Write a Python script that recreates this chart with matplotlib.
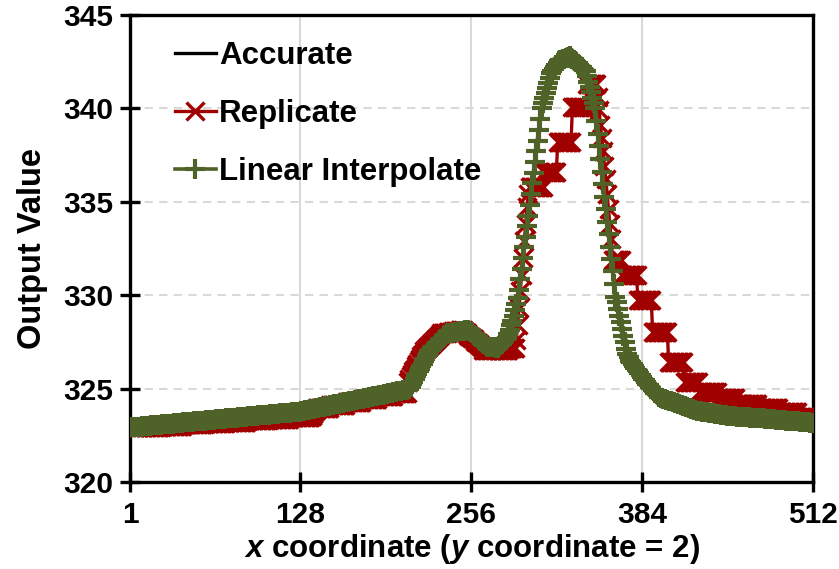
import numpy as np
import matplotlib
matplotlib.use("Agg")
import matplotlib.pyplot as plt

# ---------------- data ----------------
series_names = ["Accurate", "Replicate", "Linear Interpolate"]
x_ticks = [1, 128, 256, 384, 512]
y_ticks = [320, 325, 330, 335, 340, 345]

# Linear Interpolate, one value per x coordinate 1..512
linear_vals = [
    322.92, 322.93, 322.93, 322.94, 322.95, 322.95, 322.96, 322.97, 322.97, 322.98, 322.99, 322.99,
    323.00, 323.01, 323.01, 323.02, 323.03, 323.03, 323.04, 323.05, 323.05, 323.06, 323.07, 323.07,
    323.08, 323.09, 323.09, 323.10, 323.11, 323.11, 323.12, 323.13, 323.13, 323.14, 323.15, 323.15,
    323.16, 323.17, 323.17, 323.18, 323.19, 323.19, 323.20, 323.21, 323.21, 323.22, 323.23, 323.23,
    323.24, 323.25, 323.25, 323.26, 323.27, 323.27, 323.28, 323.29, 323.29, 323.30, 323.31, 323.31,
    323.32, 323.33, 323.33, 323.34, 323.35, 323.35, 323.36, 323.37, 323.37, 323.38, 323.39, 323.39,
    323.40, 323.41, 323.41, 323.42, 323.43, 323.43, 323.44, 323.45, 323.45, 323.46, 323.47, 323.47,
    323.48, 323.49, 323.49, 323.50, 323.51, 323.51, 323.52, 323.53, 323.53, 323.54, 323.55, 323.55,
    323.56, 323.57, 323.57, 323.58, 323.59, 323.59, 323.60, 323.61, 323.61, 323.62, 323.63, 323.63,
    323.64, 323.65, 323.65, 323.66, 323.67, 323.67, 323.68, 323.69, 323.69, 323.70, 323.71, 323.71,
    323.72, 323.73, 323.73, 323.74, 323.75, 323.75, 323.76, 323.77,
    323.78, 323.80, 323.81, 323.83, 323.84, 323.86, 323.87, 323.89, 323.90, 323.92, 323.93, 323.95, 323.96, 323.98, 323.99, 324.01,
    324.02, 324.04, 324.05, 324.07, 324.08, 324.09, 324.11, 324.12, 324.14, 324.15, 324.17, 324.18, 324.20, 324.21, 324.23, 324.24,
    324.26, 324.27, 324.29, 324.30, 324.32, 324.33, 324.35, 324.36, 324.38, 324.39, 324.40, 324.42, 324.43, 324.45, 324.46, 324.48,
    324.49, 324.51, 324.52, 324.54, 324.55, 324.57, 324.58, 324.60, 324.61, 324.63, 324.64, 324.66, 324.67, 324.68, 324.70, 324.71,
    324.73, 324.74, 324.76, 324.77, 324.79, 324.80, 324.82, 324.83, 324.85, 324.86, 324.88, 324.89, 324.91, 324.92, 324.94, 324.95,
    324.97, 324.98,
    325.11, 325.25, 325.38, 325.52, 325.65, 325.79, 325.92, 326.06, 326.19, 326.33, 326.46, 326.60, 326.73, 326.87, 327.00,
    327.07, 327.15, 327.22, 327.29, 327.37, 327.44, 327.51, 327.58, 327.66, 327.73, 327.80, 327.88, 327.95,
    327.96, 327.97, 327.99, 328.00, 328.01, 328.02, 328.03, 328.05, 328.06, 328.07, 328.08, 328.09, 328.10, 328.12, 328.13, 328.14,
    328.08, 328.01, 327.95, 327.88, 327.82, 327.76, 327.69, 327.63, 327.56, 327.50, 327.43, 327.37, 327.31, 327.24,
    327.23, 327.23, 327.22, 327.22, 327.21, 327.21, 327.20, 327.20,
    327.27, 327.34, 327.41, 327.49, 327.56, 327.63, 327.70,
    327.93, 328.15, 328.38, 328.60,
    328.91, 329.22, 329.53, 329.84,
    330.28, 330.85, 331.42, 331.99, 332.56, 333.12, 333.69, 334.26, 334.83,
    335.40, 335.98, 336.55, 337.13, 337.70, 338.28, 338.85, 339.43, 340.00,
    340.27, 340.54, 340.81, 341.09, 341.36, 341.63, 341.90,
    342.01, 342.12, 342.23, 342.33, 342.44, 342.55,
    342.58, 342.61, 342.64, 342.67, 342.69, 342.72, 342.75, 342.78,
    342.72, 342.65, 342.59, 342.53, 342.46, 342.40,
    342.33, 342.27, 342.20, 342.13, 342.07, 342.00,
    341.71, 341.43, 341.14, 340.86, 340.57, 340.29, 340.00,
    339.32, 338.65, 337.97, 337.30, 336.62, 335.95, 335.27,
    334.60, 333.93, 333.27, 332.60, 331.93, 331.27, 330.60, 329.93,
    329.61, 329.25, 328.89, 328.54, 328.18, 327.83, 327.47, 327.11,
    326.83, 326.67, 326.50,
    326.40, 326.31, 326.21, 326.11, 326.02, 325.92, 325.82, 325.73, 325.63, 325.53, 325.44, 325.34,
    325.25, 325.17, 325.10, 325.02, 324.95, 324.87, 324.79, 324.72, 324.64, 324.57,
    324.52, 324.49, 324.47, 324.44, 324.41, 324.39, 324.36, 324.34, 324.31, 324.29, 324.26, 324.23, 324.21, 324.18,
    324.16, 324.13, 324.11, 324.08, 324.05, 324.03, 324.00, 323.98, 323.95, 323.93, 323.90, 323.87, 323.85, 323.82,
    323.81, 323.80, 323.79, 323.77, 323.76, 323.75, 323.74, 323.73, 323.72, 323.70, 323.69, 323.68, 323.67,
    323.66, 323.64, 323.63, 323.62, 323.61, 323.60, 323.59, 323.57, 323.56, 323.55, 323.54, 323.53,
    323.52, 323.52, 323.51, 323.51, 323.50, 323.50, 323.49, 323.49, 323.48, 323.48, 323.47, 323.47, 323.46,
    323.46, 323.45, 323.45, 323.44, 323.44, 323.43, 323.43, 323.42, 323.42, 323.41, 323.41, 323.40,
    323.39, 323.39, 323.38, 323.38, 323.37, 323.36, 323.36, 323.35, 323.34, 323.34, 323.33, 323.33, 323.32,
    323.31, 323.31, 323.30, 323.29, 323.29, 323.28, 323.28, 323.27, 323.26, 323.26, 323.25, 323.24,
    323.24, 323.23, 323.22, 323.22, 323.21, 323.21, 323.20, 323.19, 323.19, 323.18, 323.17, 323.17,
]

# Replicate, one value per x coordinate 1..512
replicate_vals = [
    322.92, 322.92, 322.92, 322.92, 322.92, 322.92, 322.92, 322.92, 322.92,
    322.95, 322.95, 322.95, 322.95, 322.95, 322.95, 322.95, 322.95, 322.95, 322.95, 322.95, 322.95, 322.95, 322.95, 322.95,
    323.02, 323.02, 323.02, 323.02, 323.02, 323.02, 323.02, 323.02, 323.02, 323.02, 323.02, 323.02, 323.02, 323.02, 323.02, 323.02,
    323.08, 323.08, 323.08, 323.08, 323.08, 323.08, 323.08, 323.08, 323.08, 323.08, 323.08, 323.08, 323.08, 323.08, 323.08, 323.08,
    323.14, 323.14, 323.14, 323.14, 323.14, 323.14, 323.14, 323.14, 323.14, 323.14, 323.14, 323.14, 323.14, 323.14, 323.14, 323.14,
    323.22, 323.22, 323.22, 323.22, 323.22, 323.22, 323.22, 323.22, 323.22, 323.22, 323.22, 323.22, 323.22, 323.22, 323.22, 323.22,
    323.30, 323.30, 323.30, 323.30, 323.30, 323.30, 323.30, 323.30, 323.30, 323.30, 323.30, 323.30, 323.30, 323.30, 323.30, 323.30,
    323.37, 323.37, 323.37, 323.37, 323.37, 323.37, 323.37, 323.37, 323.37, 323.37, 323.37, 323.37, 323.37, 323.37, 323.37, 323.37,
    323.47, 323.47, 323.47, 323.47, 323.47, 323.47, 323.47, 323.47, 323.47, 323.47, 323.47, 323.47, 323.47, 323.47, 323.47, 323.47,
    323.55, 323.65, 323.75, 323.85,
    323.98, 323.98, 323.98, 323.98, 323.98, 323.98, 323.98, 323.98, 323.98, 323.98,
    324.12, 324.12, 324.12, 324.12, 324.12, 324.12, 324.12, 324.12, 324.12, 324.12, 324.12, 324.12,
    324.30, 324.30, 324.30, 324.30, 324.30, 324.30, 324.30, 324.30, 324.30, 324.30, 324.30, 324.30,
    324.46, 324.46, 324.46, 324.46, 324.46, 324.46, 324.46, 324.46, 324.46, 324.46, 324.46, 324.46,
    324.62, 324.62, 324.62, 324.62, 324.62, 324.62, 324.62, 324.62, 324.62, 324.62, 324.62, 324.62,
    324.78, 324.78, 324.78, 324.78, 324.78, 324.78, 324.78, 324.78, 324.78, 324.78,
    325.38, 325.52, 325.65, 325.79, 325.92, 326.06, 326.19, 326.33, 326.46, 326.60, 326.73, 326.87, 327.00,
    327.07, 327.15, 327.22, 327.29, 327.37, 327.44, 327.51, 327.58, 327.66, 327.73, 327.80, 327.88, 327.95,
    327.96, 327.97, 327.99, 328.00, 328.01, 328.02, 328.03, 328.05, 328.06, 328.07, 328.08, 328.09, 328.10, 328.12, 328.13, 328.14,
    328.08, 328.01, 327.95, 327.88, 327.82, 327.76, 327.69, 327.63, 327.56, 327.50, 327.43, 327.37, 327.31, 327.24,
    327.05, 327.05, 327.05, 327.05, 327.05, 327.05, 327.05, 327.05, 327.05, 327.05,
    327.05, 327.05, 327.05, 327.05, 327.05, 327.05, 327.05, 327.05, 327.05, 327.05,
    327.15, 327.15, 327.15, 327.15, 327.15,
    327.60, 328.40, 329.30, 330.20, 331.10, 332.00, 332.90, 333.80, 334.70, 335.40,
    335.80, 335.80, 335.80, 335.80, 335.80, 335.80, 335.80, 335.80, 335.80, 335.80, 335.80,
    336.60, 336.60, 336.60, 336.60, 336.60, 336.60, 336.60, 336.60, 336.60, 336.60,
    338.20, 338.20, 338.20, 338.20, 338.20, 338.20, 338.20, 338.20, 338.20, 338.20, 338.20,
    340.10, 340.10, 340.10, 340.10, 340.10, 340.10, 340.10, 340.10, 340.10, 340.10, 340.10,
    341.30, 341.30, 341.30, 341.30, 341.30, 341.30, 341.30, 341.30,
    340.60, 339.90, 339.10, 338.40, 337.70, 336.90, 336.20, 335.40, 334.60, 333.80, 333.00,
    331.90, 331.90, 331.90, 331.90, 331.90, 331.90, 331.90,
    331.10, 331.10, 331.10, 331.10, 331.10, 331.10, 331.10, 331.10, 331.10, 331.10, 331.10, 331.10,
    329.74, 329.74, 329.74, 329.74, 329.74, 329.74, 329.74, 329.74, 329.74, 329.74, 329.74,
    328.05, 328.05, 328.05, 328.05, 328.05, 328.05, 328.05, 328.05, 328.05, 328.05, 328.05, 328.05,
    326.44, 326.44, 326.44, 326.44, 326.44, 326.44, 326.44, 326.44, 326.44, 326.44, 326.44, 326.44,
    325.35, 325.35, 325.35, 325.35, 325.35, 325.35, 325.35, 325.35, 325.35, 325.35, 325.35,
    324.80, 324.80, 324.80, 324.80, 324.80, 324.80, 324.80, 324.80, 324.80, 324.80, 324.80, 324.80, 324.80, 324.80,
    324.50, 324.50, 324.50, 324.50, 324.50, 324.50, 324.50, 324.50, 324.50, 324.50, 324.50, 324.50, 324.50, 324.50,
    324.20, 324.20, 324.20, 324.20, 324.20, 324.20, 324.20, 324.20, 324.20, 324.20, 324.20, 324.20, 324.20, 324.20, 324.20, 324.20,
    323.95, 323.95, 323.95, 323.95, 323.95, 323.95, 323.95, 323.95, 323.95, 323.95, 323.95, 323.95, 323.95, 323.95, 323.95, 323.95,
    323.75, 323.75, 323.75, 323.75, 323.75, 323.75, 323.75, 323.75, 323.75, 323.75, 323.75, 323.75, 323.75, 323.75,
    323.50, 323.50, 323.50, 323.50, 323.50, 323.50, 323.50, 323.50, 323.50, 323.50, 323.50, 323.50,
]

# Accurate (smooth line, read at these x coordinates)
accurate_x = [1, 64, 128, 170, 210, 218, 225, 232, 238, 246, 254, 260, 268, 276, 283, 287,
              291, 296, 300, 305, 309, 313, 318, 322, 326, 330, 334, 338, 342, 346, 349, 353,
              357, 361, 365, 369, 373, 378, 384, 390, 398, 410, 425, 450, 475, 512]
accurate_vals = [322.92, 323.35, 323.77, 324.39, 325.00, 326.00, 327.00, 327.55, 327.92, 328.08,
                 328.12, 327.80, 327.28, 327.22, 327.75, 328.70, 329.95, 332.70, 335.00, 337.90,
                 340.20, 341.50, 342.35, 342.70, 342.85, 342.90, 342.75, 342.40, 341.90, 340.95,
                 339.95, 337.40, 334.75, 332.10, 329.70, 328.10, 326.95, 326.15, 325.55, 325.08,
                 324.55, 324.18, 323.83, 323.53, 323.40, 323.17]

# ---------------- styling ----------------
plt.rcParams['font.family'] = ['Liberation Sans', 'DejaVu Sans']
plt.rcParams['font.weight'] = 'bold'
plt.rcParams['mathtext.fontset'] = 'custom'
plt.rcParams['mathtext.rm'] = 'Liberation Sans:bold'
try:
    plt.rcParams['mathtext.bfit'] = 'Liberation Sans:italic:bold'
    xlabel_text = r"$\mathbfit{x}$ coordinate ($\mathbfit{y}$ coordinate = 2)"
except KeyError:
    plt.rcParams['mathtext.it'] = 'Liberation Sans:italic:bold'
    xlabel_text = r"$\mathit{x}$ coordinate ($\mathit{y}$ coordinate = 2)"

RED = '#A00000'
GREEN = '#4F6228'

fig = plt.figure(figsize=(8.39, 5.69), dpi=100)
ax = fig.add_axes([130 / 839, 87 / 569, 683 / 839, 467 / 569])

x_lin = np.arange(1, len(linear_vals) + 1)
x_rep = np.arange(1, len(replicate_vals) + 1)

ax.plot(accurate_x, accurate_vals, color='black', lw=2.4, label=series_names[0], zorder=3)
ax.plot(x_rep, replicate_vals, color=RED, lw=2.4, marker='x', ms=13.5, mew=2.4,
        label=series_names[1], zorder=4)
ax.plot(x_lin, linear_vals, color=GREEN, lw=2.6, marker='+', ms=15, mew=3.0,
        label=series_names[2], zorder=5)

ax.set_xlim(1, 512)
ax.set_ylim(320, 345)
ax.set_xticks(x_ticks)
ax.set_yticks(y_ticks)
ax.set_xticklabels([str(t) for t in x_ticks])
ax.set_yticklabels([str(t) for t in y_ticks])

ax.set_axisbelow(True)
ax.xaxis.grid(True, color='#D9D9D9', lw=1.5, ls='-')
ax.yaxis.grid(True, color='#D9D9D9', lw=1.5, ls=(0, (4, 3)))

for s in ax.spines.values():
    s.set_color('black')
    s.set_linewidth(2.4)

ax.tick_params(axis='both', direction='inout', length=14, width=2.4, labelsize=21.5, colors='black')
ax.tick_params(axis='y', pad=5)
ax.tick_params(axis='x', pad=7)

ax.set_xlabel(xlabel_text, fontsize=22.5, fontweight='bold', labelpad=2)
ax.set_ylabel("Output Value", fontsize=23.5, fontweight='bold', labelpad=11)

leg = ax.legend(loc='upper left', bbox_to_anchor=(0.066, 0.944), frameon=False,
                fontsize=22.5, handlelength=1.3, handletextpad=0.1, labelspacing=0.9,
                borderpad=0.0, borderaxespad=0.0, markerscale=1.0)

fig.savefig("out.png", dpi=100)
